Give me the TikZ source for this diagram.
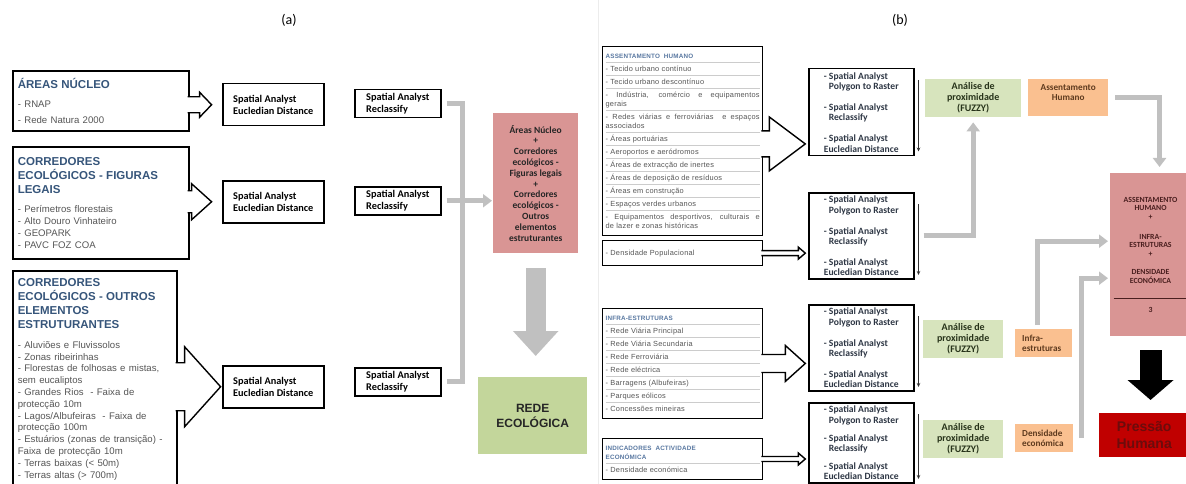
\documentclass[tikz,border=0pt]{standalone}
\usepackage{fontspec}
\setmainfont{Liberation Sans}
\newfontfamily\calib{Carlito}
\newfontfamily\listface[LetterSpace=3]{Liberation Sans}
\usepackage{colortbl}
\usetikzlibrary{arrows.meta}

\definecolor{titleblue}{HTML}{36557A}
\definecolor{titlelight}{HTML}{5877A0}
\definecolor{itemgray}{HTML}{555555}
\definecolor{toolink}{HTML}{2D3644}
\definecolor{sumpink}{HTML}{D99594}
\definecolor{redegreen}{HTML}{C3D69B}
\definecolor{fuzzygreen}{HTML}{D7E4BD}
\definecolor{fuzzytext}{HTML}{27331A}
\definecolor{layerorange}{HTML}{FAC090}
\definecolor{layertext}{HTML}{5E3A1E}
\definecolor{sumtext}{HTML}{4A1F1F}
\definecolor{pressred}{HTML}{C00000}
\definecolor{presstext}{HTML}{6B0C0C}
\definecolor{flowgray}{HTML}{C0C0C0}

\newcommand{\srchead}[1]{{\fontsize{11.5}{14}\selectfont\bfseries\color{titleblue}#1\par}\vspace{8pt}}
\newcommand{\srclist}[1]{{\fontsize{9.6}{11.8}\selectfont\color{itemgray}#1\par}}
\newcommand{\tabhead}[1]{{\leavevmode\fontsize{6.3}{9}\selectfont\bfseries\color{titlelight}#1}}
\newcommand{\rowtab}[1]{{\listface\fontsize{7.4}{9}\selectfont\color{itemgray}%
  \arrayrulecolor{gray!40}\setlength{\arrayrulewidth}{0.3pt}\renewcommand{\arraystretch}{1.41}%
  \begin{tabular}{@{}p{154pt}@{}}#1\end{tabular}}}
% open block arrow: start, length, half shaft, half head, head length
\newcommand{\hollowarrow}[5]{%
  \filldraw[hollow] (#1) ++(-2,-#3) -- ++(#2-#5+2,0) -- ++(0,#3-#4) -- ++(#5,#4)
    -- ++(-#5,#4) -- ++(0,#3-#4) -- ++(-#2+#5-2,0);}

\tikzset{
  srcbox/.style={draw=black, line width=1.6pt, anchor=north west, align=left, inner xsep=5pt},
  toolbox/.style={draw=black, line width=1.5pt, anchor=north west, align=left,
    font=\calib\bfseries\fontsize{10.3}{12}\selectfont},
  stepbox/.style={draw=black, line width=1.5pt, anchor=north west, align=left,
    minimum width=105pt, font=\calib\bfseries\fontsize{9.6}{10.6}\selectfont, text=toolink},
  tabbox/.style={draw=black, line width=1.3pt, anchor=north west, inner sep=3pt},
  fuzzy/.style={fill=fuzzygreen, anchor=north west, align=center, minimum height=38pt,
    font=\calib\bfseries\fontsize{10}{11}\selectfont, text=fuzzytext},
  layer/.style={fill=layerorange, anchor=north west,
    font=\calib\bfseries\fontsize{9.2}{10.3}\selectfont, text=layertext},
  sumbox/.style={fill=sumpink, anchor=north west, align=center},
  flow/.style={draw=flowgray, line width=5pt},
  flowarrow/.style={flow, -{Triangle[width=13pt,length=9pt]}},
  hollow/.style={draw=black, fill=white, line width=1.4pt, line join=miter},
  pass/.style={draw=black!80, line width=0.7pt, -{Stealth[length=4pt,width=3.5pt]}},
  panel/.style={font=\calib\fontsize{14}{16}\selectfont}
}

\begin{document}
\begin{tikzpicture}[x=1pt,y=-1pt]
  \useasboundingbox (0,0) rectangle (1186,484);
  \clip (0,0) rectangle (1186,484);

  \node[panel] (pa) at (289,20) {(a)};
  \node[panel] (pb) at (900,20) {(b)};
  \draw[gray!15, line width=0.8pt] (598,0) -- (598,484);

  % (a) input layers
  \node[srcbox, text width=166pt, minimum height=60pt] (nucleo) at (12,70)
    {\srchead{ÁREAS NÚCLEO}\srclist{- RNAP\\[4pt]- Rede Natura 2000}};
  \node[srcbox, text width=166pt, minimum height=112pt] (figuras) at (12,146)
    {\srchead{CORREDORES\\ECOLÓGICOS - FIGURAS\\LEGAIS}%
     \srclist{- Perímetros florestais\\- Alto Douro Vinhateiro\\- GEOPARK\\- PAVC FOZ COA}};
  \node[srcbox, text width=154pt, minimum height=217pt] (outros) at (12,270)
    {\srchead{CORREDORES\\ECOLÓGICOS - OUTROS\\ELEMENTOS\\ESTRUTURANTES}%
     \srclist{- Aluviões e Fluvissolos\\- Zonas ribeirinhas\\- Florestas de folhosas e mistas,\\sem eucaliptos\\
       - Grandes Rios~ - Faixa de\\protecção 10m\\- Lagos/Albufeiras~ - Faixa de\\protecção 100m\\
       - Estuários (zonas de transição) -\\Faixa de protecção 10m\\- Terras baixas (< 50m)\\- Terras altas (> 700m)}};

  \node[toolbox, minimum width=101pt, minimum height=42pt] (eucl1) at (222,83) {Spatial Analyst\\Eucledian Distance};
  \node[toolbox, minimum width=101pt, minimum height=42pt] (eucl2) at (222,180) {Spatial Analyst\\Eucledian Distance};
  \node[toolbox, minimum width=101pt, minimum height=42pt] (eucl3) at (222,365) {Spatial Analyst\\Eucledian Distance};

  \node[toolbox, minimum width=86pt, minimum height=28pt] (recl1) at (354,89) {Spatial Analyst\\Reclassify};
  \node[toolbox, minimum width=86pt, minimum height=28pt] (recl2) at (354,186) {Spatial Analyst\\Reclassify};
  \node[toolbox, minimum width=86pt, minimum height=28pt] (recl3) at (354,367) {Spatial Analyst\\Reclassify};

  \hollowarrow{nucleo.east |- eucl1.west}{22}{8}{12.5}{12}
  \hollowarrow{figuras.east |- eucl2.west}{22}{11}{18}{20}
  \hollowarrow{outros.east |- eucl3.west}{43}{24}{40}{36}

  \node[sumbox, minimum width=85pt, minimum height=140pt, text=black!85,
    font=\calib\bfseries\fontsize{9.5}{10.8}\selectfont] (combo) at (493,113)
    {Áreas Núcleo\\+\\Corredores\\ecológicos -\\Figuras legais\\+\\Corredores\\ecológicos -\\Outros\\elementos\\estruturantes};
  \node[fill=redegreen, anchor=north west, align=center, minimum width=109pt, minimum height=77pt,
    font=\bfseries\fontsize{12}{15}\selectfont, text=black!85] (rede) at (478,377) {REDE\\ECOLÓGICA};

  \coordinate (bus) at (462,0);
  \draw[flow] ([xshift=5pt]recl1.east) -| (bus |- recl3.east) -- ([xshift=5pt]recl3.east);
  \draw[flowarrow] ([xshift=5pt]recl2.east) -- ([xshift=-1pt]combo.west |- recl2.east);
  \draw[draw=flowgray, line width=20pt, -{Triangle[width=44pt,length=25pt]}]
    ([yshift=-15pt]combo.south) -- ([yshift=21pt]combo.south |- rede.north);

  % (b) input layers
  \node[tabbox] (assent) at (602,46) {\rowtab{%
    \tabhead{ASSENTAMENTO~ HUMANO}\\ \hline
    - Tecido urbano contínuo\\ \hline
    - Tecido urbano descontínuo\\ \hline
    - Indústria, comércio e equipamentos\linebreak gerais\\ \hline
    - Redes viárias e ferroviárias~ e espaços\linebreak associados\\ \hline
    - Áreas portuárias\\ \hline
    - Aeroportos e aeródromos\\ \hline
    - Áreas de extracção de inertes\\ \hline
    - Áreas de deposição de resíduos\\ \hline
    - Áreas em construção\\ \hline
    - Espaços verdes urbanos\\ \hline
    - Equipamentos desportivos, culturais e\linebreak de lazer e zonas históricas\\}};
  \node[tabbox, minimum height=25pt] (densp) at (602,240) {\rowtab{- Densidade Populacional\\}};
  \node[tabbox] (infra) at (602,308) {\rowtab{%
    \tabhead{INFRA-ESTRUTURAS}\\ \hline
    - Rede Viária Principal\\ \hline
    - Rede Viária Secundaria\\ \hline
    - Rede Ferroviária\\ \hline
    - Rede eléctrica\\ \hline
    - Barragens (Albufeiras)\\ \hline
    - Parques eólicos\\ \hline
    - Concessões mineiras\\}};
  \node[tabbox] (indic) at (602,438) {\rowtab{%
    \tabhead{INDICADORES~ ACTIVIDADE\newline ECONÓMICA}\\ \hline
    - Densidade económica\\}};

  \node[stepbox, minimum height=87pt] (sb1) at (808,68)
    {- Spatial Analyst\\\hspace*{5pt}Polygon to Raster\\[10pt]- Spatial Analyst\\\hspace*{5pt}Reclassify\\[10pt]- Spatial Analyst\\Eucledian Distance};
  \node[stepbox, minimum height=85pt] (sb2) at (808,192)
    {- Spatial Analyst\\\hspace*{5pt}Polygon to Raster\\[10pt]- Spatial Analyst\\\hspace*{5pt}Reclassify\\[10pt]- Spatial Analyst\\Eucledian Distance};
  \node[stepbox, minimum height=86pt] (sb3) at (808,304)
    {- Spatial Analyst\\\hspace*{5pt}Polygon to Raster\\[10pt]- Spatial Analyst\\\hspace*{5pt}Reclassify\\[10pt]- Spatial Analyst\\Eucledian Distance};
  \node[stepbox, minimum height=80pt] (sb4) at (808,402)
    {- Spatial Analyst\\\hspace*{5pt}Polygon to Raster\\[7pt]- Spatial Analyst\\\hspace*{5pt}Reclassify\\[7pt]- Spatial Analyst\\Eucledian Distance};

  \hollowarrow{[yshift=-3pt]assent.east}{42}{13}{27}{36}
  \hollowarrow{densp.east}{42}{2.5}{6}{7}
  \hollowarrow{infra.east}{42}{9}{18}{20}
  \hollowarrow{indic.east}{42}{2.5}{6}{7}

  \foreach \b in {sb1,sb2,sb3,sb4}
    \draw[pass] ([xshift=4pt,yshift=-12pt]\b.north east) -- ([xshift=4pt,yshift=5pt]\b.south east);

  \node[fuzzy, minimum width=96pt] (fz1) at (925,79) {Análise de\\proximidade\\(FUZZY)};
  \node[fuzzy, minimum width=80pt] (fz2) at (923,320) {Análise de\\proximidade\\(FUZZY)};
  \node[fuzzy, minimum width=80pt] (fz3) at (923,420) {Análise de\\proximidade\\(FUZZY)};

  \node[layer, align=center, minimum width=80pt, minimum height=37pt] (lay1) at (1028,79) {Assentamento\\Humano\\\mbox{}};
  \node[layer, align=left, text width=43pt, inner xsep=7pt, minimum height=28pt] (lay2) at (1015,329) {Infra-\\estruturas};
  \node[layer, align=left, text width=44pt, inner xsep=7pt, minimum height=28pt] (lay3) at (1015,424) {Densidade\\económica};

  \node[sumbox, minimum width=78pt, minimum height=163pt, text=sumtext,
    font=\calib\bfseries\fontsize{7.8}{8.7}\selectfont] (press) at (1110,173)
    {ASSENTAMENTO\\HUMANO\\+\\[11pt]INFRA-\\ESTRUTURAS\\+\\[9.5pt]DENSIDADE\\ECONÓMICA\\[6pt]\rule{74pt}{0.7pt}\\[5.3pt]3};
  \node[fill=pressred, anchor=north west, align=center, minimum width=90pt, minimum height=44pt,
    font=\bfseries\fontsize{14}{17}\selectfont, text=presstext] (human) at (1099,413) {Pressão\\Humana};

  \draw[flowarrow] ([xshift=9pt]sb2.east) -| ([yshift=-5pt]fz1.south);
  \draw[flowarrow] ([xshift=7pt]lay1.east) -| ([xshift=9pt,yshift=6pt]press.north);
  \draw[flowarrow] ([xshift=-6pt,yshift=4pt]lay2.north) |- ([xshift=-2pt,yshift=13.5pt]press.west);
  \draw[flowarrow] ([xshift=8pt]lay3.east) |- ([xshift=-2pt,yshift=-23.5pt]press.west);
  \draw[draw=black, line width=22pt, -{Triangle[width=45pt,length=20pt]}]
    ([yshift=-14pt]press.south) -- ([yshift=13pt]press.south |- human.north);
\end{tikzpicture}
\end{document}
